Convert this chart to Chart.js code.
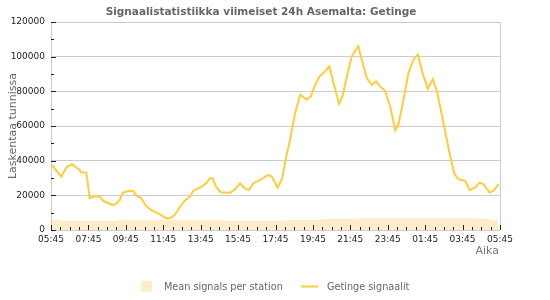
<!DOCTYPE html>
<html><head><meta charset="utf-8">
<script src="https://cdn.jsdelivr.net/npm/chart.js@4.4.0/dist/chart.umd.min.js"></script>
<style>html,body{margin:0;padding:0;background:#fff}#wrap{width:550px;height:300px}</style>
</head><body><div id="wrap"><canvas id="c" width="550" height="300"></canvas></div>
<script>
const chartTitle = 'Signaalistatistiikka viimeiset 24h Asemalta: Getinge';
const yAxisTitle = 'Laskentaa tunnissa';
const xAxisTitle = 'Aika';
const meanLabel = 'Mean signals per station';
const lineLabel = 'Getinge signaalit';
const xTickLabels = ['05:45','07:45','09:45','11:45','13:45','15:45','17:45','19:45','21:45','23:45','01:45','03:45','05:45'];

// hours since 05:45
const getingeHours = [0.05,0.55,0.82,1.12,1.53,1.62,1.89,2.07,2.25,2.51,2.66,2.78,3.05,3.32,3.49,3.67,3.85,4.12,4.39,4.56,4.83,5.10,5.36,5.72,6.17,6.35,6.61,6.88,7.15,7.43,7.61,8.06,8.33,8.50,8.63,8.82,9.07,9.57,9.84,10.11,10.34,10.59,10.82,11.18,11.62,11.80,12.11,12.35,12.54,12.78,13.05,13.32,13.67,13.89,14.12,14.36,14.65,14.88,15.10,15.40,15.58,15.81,16.08,16.35,16.43,16.61,16.88,17.15,17.38,17.59,17.86,18.13,18.40,18.57,18.84,19.11,19.37,19.61,19.86,20.14,20.41,20.63,20.80,21.03,21.16,21.34,21.57,21.78,22.14,22.37,22.67,22.90,23.12,23.44,23.65,23.92];
const getingeValues = [37500,30800,36200,38000,34700,33300,33100,18300,19250,19650,18700,16950,15430,14450,15000,17340,21560,22540,22540,19830,18320,13470,11560,9650,6760,6760,8670,13100,16940,19250,22700,25030,27340,29880,29880,25030,21790,21560,23520,27000,24100,23120,27000,28900,31790,30810,24500,29500,40460,52000,67450,78030,75140,77050,83810,88610,91500,94390,84790,72830,77050,88610,100170,105020,105950,98260,87680,83810,85720,82830,80340,71270,57500,60690,75140,90570,98260,101150,90570,81500,87100,79940,71270,58780,52020,42370,32190,29300,28320,23120,24450,27340,26410,21560,22540,26410];

const meanHours = [0.05,0.45,3.55,9.2,12.6,14.4,16.4,22.8,23.5,23.92];
const meanValues = [5800,5300,5900,5300,5800,6300,6900,6300,5800,5800];

const yellow = '#ffcc3a';
const peach = '#fdedca';
const FONT = 'DejaVu Sans';

const decor = {
  id: 'decor',
  afterDatasetsDraw(chart) {
    const ctx = chart.ctx, a = chart.chartArea;
    const xs = chart.scales.x, ys = chart.scales.y;
    ctx.save();
    // right border
    ctx.strokeStyle = '#ccc'; ctx.lineWidth = 1;
    ctx.beginPath(); ctx.moveTo(Math.round(a.right) + 0.5, a.top); ctx.lineTo(Math.round(a.right) + 0.5, a.bottom); ctx.stroke();
    // x tick marks (every 30 min, longer every 2 h)
    ctx.strokeStyle = '#222';
    for (let i = 0; i <= 48; i++) {
      const px = Math.round(xs.getPixelForValue(i * 0.5)) + 0.5;
      const len = (i % 4 === 0) ? 5 : 3;
      ctx.beginPath(); ctx.moveTo(px, a.bottom); ctx.lineTo(px, a.bottom - len); ctx.stroke();
    }
    // y tick marks
    for (let v = 0; v <= 120000; v += 10000) {
      const py = Math.round(ys.getPixelForValue(v)) + 0.5;
      const len = (v % 20000 === 0) ? 5 : 3;
      ctx.beginPath(); ctx.moveTo(a.left, py); ctx.lineTo(a.left + len, py); ctx.stroke();
    }
    ctx.restore();
  },
  afterDraw(chart) {
    const ctx = chart.ctx;
    ctx.save();
    // title
    ctx.font = 'bold 10.5px "' + FONT + '"';
    ctx.fillStyle = '#666'; ctx.textAlign = 'center'; ctx.textBaseline = 'alphabetic';
    ctx.fillText(chartTitle, 261, 15);
    // x axis title
    ctx.font = '11px "' + FONT + '"';
    ctx.fillStyle = '#777'; ctx.textAlign = 'right';
    ctx.fillText(xAxisTitle, 499, 254);
    // y axis title
    ctx.save();
    ctx.translate(16, 126); ctx.rotate(-Math.PI / 2);
    ctx.textAlign = 'center'; ctx.fillStyle = '#666';
    ctx.fillText(yAxisTitle, 0, 0);
    ctx.restore();
    // legend
    ctx.fillStyle = peach; ctx.fillRect(141, 281, 11, 11);
    ctx.font = '9.7px "' + FONT + '"';
    ctx.fillStyle = '#666'; ctx.textAlign = 'left'; ctx.textBaseline = 'middle';
    ctx.fillText(meanLabel, 164, 287);
    ctx.strokeStyle = yellow; ctx.lineWidth = 2;
    ctx.beginPath(); ctx.moveTo(301, 286.5); ctx.lineTo(318, 286.5); ctx.stroke();
    ctx.fillText(lineLabel, 327, 287);
    ctx.restore();
  }
};

new Chart(document.getElementById('c'), {
  type: 'line',
  data: {
    datasets: [
      {
        label: lineLabel,
        data: getingeHours.map((h, i) => ({x: h, y: getingeValues[i]})),
        borderColor: yellow, borderWidth: 2, pointRadius: 0, tension: 0, fill: false, order: 1
      },
      {
        label: meanLabel,
        data: meanHours.map((h, i) => ({x: h, y: meanValues[i]})),
        borderWidth: 0, borderColor: peach, backgroundColor: peach, pointRadius: 0,
        stepped: 'before', fill: 'origin', order: 2
      }
    ]
  },
  options: {
    responsive: false, animation: false, devicePixelRatio: 1,
    layout: {padding: {top: 22, right: 50, bottom: 50, left: 0}},
    plugins: {legend: {display: false}, title: {display: false}, tooltip: {enabled: false}},
    scales: {
      x: {
        type: 'linear', min: 0, max: 24,
        afterFit: s => { s.height = 20; },
        grid: {display: false, drawTicks: false},
        border: {display: false},
        ticks: {stepSize: 2, autoSkip: false, maxRotation: 0, padding: 4,
          font: {family: FONT, size: 9}, color: '#222',
          callback: v => xTickLabels[Math.round(v / 2)]}
      },
      y: {
        min: 0, max: 120000,
        afterFit: s => { s.width = 51; },
        grid: {color: '#ccc', drawTicks: false},
        border: {color: '#ccc'},
        ticks: {stepSize: 20000, padding: 6, font: {family: FONT, size: 9}, color: '#222',
          callback: v => String(v)}
      }
    }
  },
  plugins: [decor]
});
</script></body></html>
